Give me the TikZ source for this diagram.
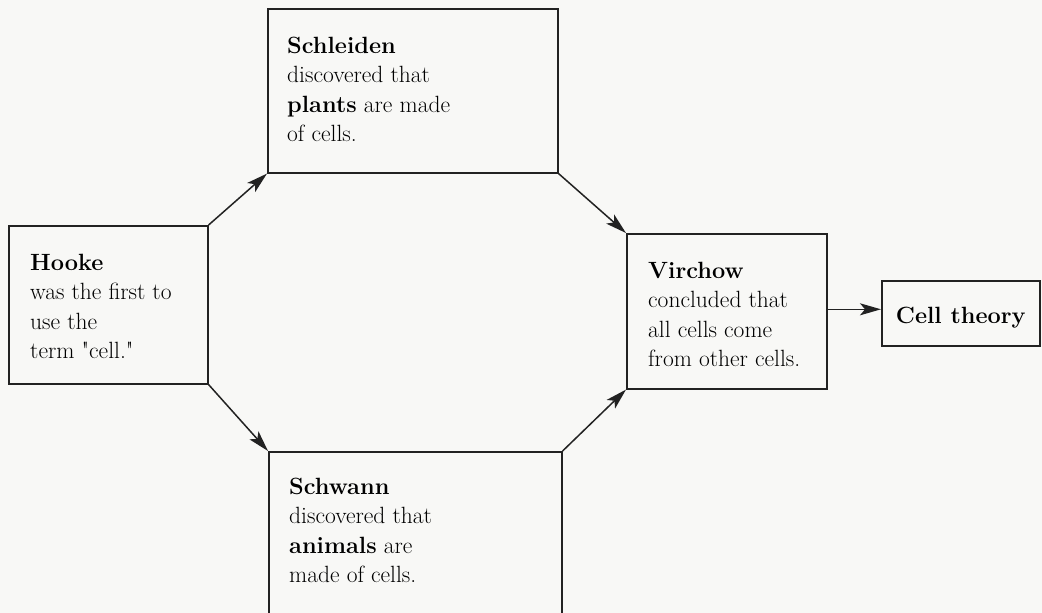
\documentclass[tikz,border=0pt]{standalone}
\usetikzlibrary{arrows.meta,calc}
\definecolor{ink}{HTML}{222222}
\definecolor{paper}{HTML}{F8F8F6}
\begin{document}
\begin{tikzpicture}[x=1pt,y=-1pt,
  box/.style={draw=ink,line width=1.6pt,rectangle,inner sep=0pt,anchor=north west},
  txt/.style={anchor=north west,inner sep=0pt,align=left,text=black,
    font=\fontsize{23.5}{29.5}\selectfont},
  conn/.style={draw=ink,line width=1.5pt,-{Stealth[length=21pt,width=12pt,inset=5pt]}}]
\fill[paper] (0,0) rectangle (1042,613);
\useasboundingbox (0,0) rectangle (1042,613);
% boxes
\node[box,minimum width=199pt,minimum height=158pt] (hooke) at (8,225) {};
\node[box,minimum width=290pt,minimum height=164pt] (schleiden) at (267,8) {};
\node[box,minimum width=293pt,minimum height=180pt] (schwann) at (268,451) {};
\node[box,minimum width=200pt,minimum height=155pt] (virchow) at (626,233) {};
\node[box,minimum width=158pt,minimum height=65pt] (cell) at (881,280) {};
% texts
\node[txt] (hooketxt) at ($(hooke.north west)+(22,28.5)$)
  {\textbf{Hooke}\\was the first to\\use the\\term \textquotedbl cell.\textquotedbl};
\node[txt] (schleidentxt) at ($(schleiden.north west)+(20,28.5)$)
  {\textbf{Schleiden}\\discovered that\\\textbf{plants} are made\\of cells.};
\node[txt] (schwanntxt) at ($(schwann.north west)+(21,26.5)$)
  {\textbf{Schwann}\\discovered that\\\textbf{animals} are\\made of cells.};
\node[txt] (virchowtxt) at ($(virchow.north west)+(22,28.5)$)
  {\textbf{Virchow}\\concluded that\\all cells come\\from other cells.};
\node[anchor=base,inner sep=0pt,text=black,font=\fontsize{23.5}{29.5}\selectfont\bfseries]
  (celltxt) at ($(cell.center)+(0,10.5)$) {Cell theory};
% connectors
\draw[conn] (hooke.north east) -- (schleiden.south west);
\draw[conn] (hooke.south east) -- (schwann.north west);
\draw[conn] (schleiden.south east) -- (virchow.north west);
\draw[conn] (schwann.north east) -- (virchow.south west);
\draw[conn] ($(virchow.east)+(0,-2)$) -- ($(virchow.east -| cell.west)+(0,-2)$);
\end{tikzpicture}
\end{document}
